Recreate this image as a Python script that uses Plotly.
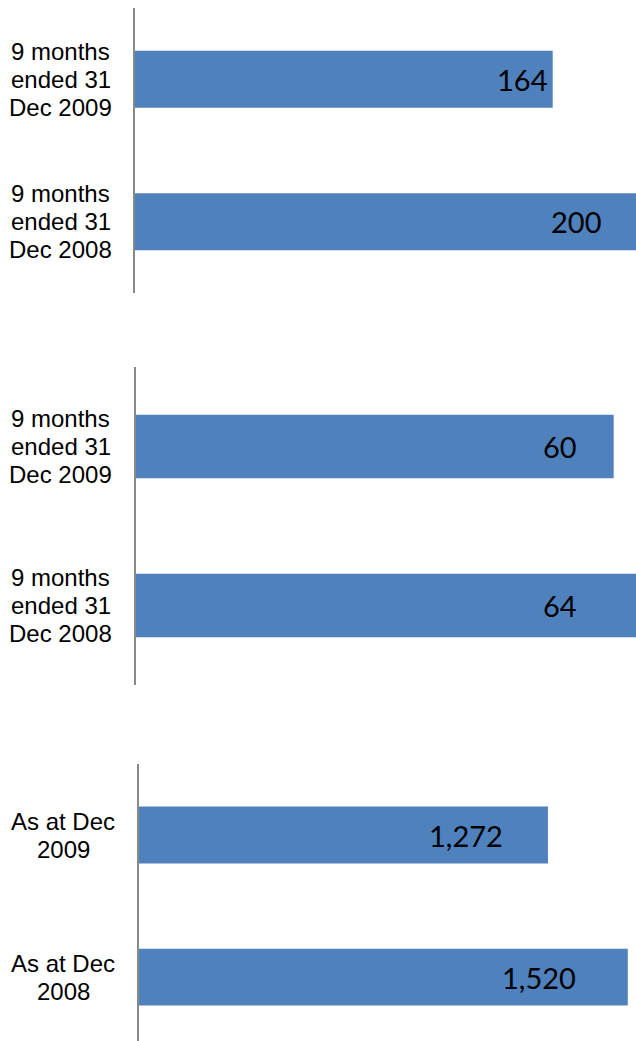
import plotly.graph_objects as go

# ---- data ----
CATS_TOP = ["9 months<br>ended 31<br>Dec 2009", "9 months<br>ended 31<br>Dec 2008"]
VALUES_1 = [164, 200]
CATS_MID = ["9 months<br>ended 31<br>Dec 2009", "9 months<br>ended 31<br>Dec 2008"]
VALUES_2 = [60, 64]
CATS_BOT = ["As at Dec<br>2009", "As at Dec<br>2008"]
VALUES_3 = [1272, 1520]

# ---- styling / layout ----
W, H = 636, 1041
BAR_COLOR = "#4F81BD"
AXIS_COLOR = "#898989"
CAT_FONT = dict(family="Arial, Liberation Sans, sans-serif", size=24, color="#000000")
VAL_FONT = dict(family="Lato, Carlito, sans-serif", size=29, color="#000000")
LINE_STEP = 28  # px between category-label lines

panels = [
    dict(cats=CATS_TOP, vals=VALUES_1, xdom=(135 / W, 1), ydom=(1 - 293 / H, 1 - 8 / H),
         xmax=196.7, yrange=[1.5, -0.5], label_x=60.5 / W, shifts=[-4, -33]),
    dict(cats=CATS_MID, vals=VALUES_2, xdom=(135.7 / W, 1), ydom=(1 - 685 / H, 1 - 367 / H),
         xmax=62.8, yrange=[1.5, -0.5], label_x=60.5 / W, shifts=[-35, -57]),
    dict(cats=CATS_BOT, vals=VALUES_3, xdom=(138.5 / W, 1), ydom=(0, 1 - 764 / H),
         xmax=1545.5, yrange=[1.45, -0.5], label_x=63.3 / W, shifts=[-43, -50]),
]

fig = go.Figure()
annotations = []
for i, p in enumerate(panels, start=1):
    sfx = "" if i == 1 else str(i)
    fig.add_trace(go.Bar(
        x=p["vals"], y=p["cats"], orientation="h",
        marker=dict(color=BAR_COLOR, line=dict(width=0)),
        width=0.4, xaxis="x" + sfx, yaxis="y" + sfx,
        hoverinfo="skip", showlegend=False,
    ))
    fig.update_layout(**{
        "xaxis" + sfx: dict(domain=list(p["xdom"]), range=[0, p["xmax"]], visible=False,
                            anchor="y" + sfx, fixedrange=True),
        "yaxis" + sfx: dict(domain=list(p["ydom"]), range=p["yrange"], type="category",
                            anchor="x" + sfx, showticklabels=False, ticks="",
                            showgrid=False, zeroline=False, showline=True,
                            linecolor=AXIS_COLOR, linewidth=2, fixedrange=True),
    })
    for c, v, s in zip(p["cats"], p["vals"], p["shifts"]):
        lines = c.split("<br>")
        n = len(lines)
        for k, ln in enumerate(lines):
            annotations.append(dict(
                x=p["label_x"], xref="paper", y=c, yref="y" + sfx,
                text=ln, showarrow=False, align="center", xanchor="center",
                yanchor="middle", yshift=((n - 1) / 2 - k) * LINE_STEP,
                font=CAT_FONT,
            ))
        annotations.append(dict(
            x=min(v, p["xmax"]), xref="x" + sfx, y=c, yref="y" + sfx,
            text=f"{v:,}", showarrow=False, xanchor="right", yanchor="middle",
            xshift=s, font=VAL_FONT,
        ))

fig.update_layout(
    width=W, height=H,
    margin=dict(l=0, r=0, t=0, b=0),
    paper_bgcolor="white", plot_bgcolor="white",
    annotations=annotations,
)

fig.write_html(
    "out.html",
    config={"displayModeBar": False},
    post_script="document.body.style.margin='0';document.body.style.overflow='hidden';",
)
